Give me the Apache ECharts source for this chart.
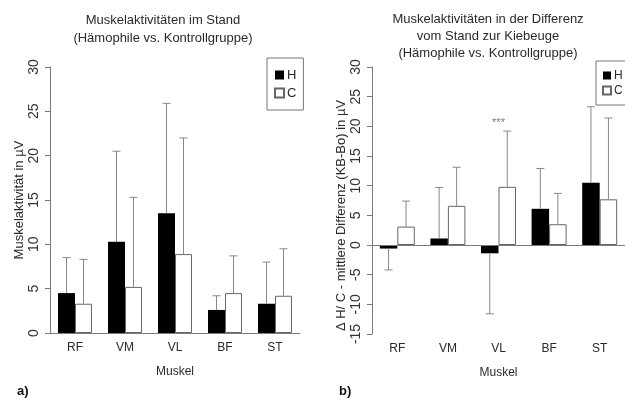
<!DOCTYPE html>
<html>
<head>
<meta charset="utf-8">
<title>Muskelaktivitäten</title>
<script src="https://cdn.jsdelivr.net/npm/echarts@6/dist/echarts.min.js"></script>
<style>
  html, body { margin: 0; padding: 0; background: #fff; }
  #main { width: 625px; height: 403px; }
</style>
</head>
<body>
<div id="main"></div>
<script>
// Daten
var categories = ['RF', 'VM', 'VL', 'BF', 'ST'];

// a) Stand
var standH = [4.5, 10.3, 13.5, 2.6, 3.3];
var standC = [3.3, 5.2, 8.9, 4.5, 4.2];
var standHEnd = [8.5, 20.5, 25.9, 4.2, 8.0];
var standCEnd = [8.3, 15.3, 22.0, 8.7, 9.5];

// b) Differenz Stand -> Kniebeuge
var diffH = [-0.6, 1.1, -1.4, 6.1, 10.5];
var diffC = [3.1, 6.6, 9.8, 3.5, 7.7];
var diffHEnd = [-4.2, 9.7, -11.6, 12.9, 23.3];
var diffCEnd = [7.4, 13.1, 19.2, 8.7, 21.4];

var sigCategory = ['VL'];
var sigValue = [20.5];
var sigText = ['***'];

var leftTicks = [0, 5, 10, 15, 20, 25, 30];
var rightTicks = [-15, -10, -5, 0, 5, 10, 15, 20, 25, 30];

var font = 'Liberation Sans, Arial, sans-serif';
var axisGray = '#7a7a7a';
var textCol = '#2a2a2a';

function errData(vals, ends) {
    return vals.map(function (v, i) { return [i, v, ends[i]]; });
}

// Fehlerbalken: Linie vom Balkenende bis zum Wert + SD, mit Querstrich
function errorBar(offset) {
    return function (params, api) {
        var i = api.value(0);
        var p1 = api.coord([i, api.value(1)]);
        var p2 = api.coord([i, api.value(2)]);
        var x = p1[0] + offset;
        var st = { stroke: '#888', lineWidth: 1 };
        return {
            type: 'group',
            children: [
                { type: 'line', shape: { x1: x, y1: p1[1], x2: x, y2: p2[1] }, style: st },
                { type: 'line', shape: { x1: x - 4, y1: p2[1], x2: x + 4, y2: p2[1] }, style: st }
            ]
        };
    };
}

function yAxis(idx, ticks, name, pad) {
    return {
        type: 'value',
        gridIndex: idx,
        min: ticks[0],
        max: ticks[ticks.length - 1],
        interval: 5,
        name: name,
        nameLocation: 'middle',
        nameGap: 24,
        nameTextStyle: { fontSize: 13, color: textCol, fontFamily: font, padding: pad },
        axisLine: { show: true, lineStyle: { color: axisGray } },
        axisTick: { show: true, length: 5, lineStyle: { color: axisGray } },
        axisLabel: { rotate: 90, margin: 9, fontSize: 14, color: '#333', fontFamily: font },
        splitLine: { show: false }
    };
}

function xAxis(idx, showLine) {
    return {
        type: 'category',
        gridIndex: idx,
        data: categories,
        name: 'Muskel',
        nameLocation: 'middle',
        nameGap: 33,
        nameTextStyle: { fontSize: 12, color: textCol, fontFamily: font },
        axisLine: { show: showLine, onZero: false, lineStyle: { color: axisGray } },
        axisTick: { show: false },
        axisLabel: { margin: 9, fontSize: 12, color: textCol, fontFamily: font }
    };
}

var myChart = echarts.init(document.getElementById('main'));

var option = {
    backgroundColor: '#fff',
    animation: false,
    title: [
        {
            text: 'Muskelaktivitäten im Stand\n(Hämophile vs. Kontrollgruppe)',
            left: 158, top: 6, textAlign: 'center',
            textStyle: { fontSize: 13, fontWeight: 'normal', color: textCol, fontFamily: font, lineHeight: 18 }
        },
        {
            text: 'Muskelaktivitäten in der Differenz\nvom Stand zur Kiebeuge\n(Hämophile vs. Kontrollgruppe)',
            left: 483, top: 6, textAlign: 'center',
            textStyle: { fontSize: 13, fontWeight: 'normal', color: textCol, fontFamily: font, lineHeight: 17 }
        }
    ],
    legend: [
        {
            data: ['H', 'C'], orient: 'vertical', left: 267, top: 58,
            padding: [10, 7], itemGap: 4, itemWidth: 9, itemHeight: 9,
            borderColor: '#777', borderWidth: 1, icon: 'rect',
            textStyle: { fontSize: 13, color: textCol, fontFamily: font, lineHeight: 14, padding: [0, 0, 0, -2] }
        },
        {
            data: ['H', 'C'], orient: 'vertical', left: 596, top: 61,
            padding: [8, 6], itemGap: 2, itemWidth: 8, itemHeight: 8,
            borderColor: '#777', borderWidth: 1, icon: 'rect',
            textStyle: { fontSize: 12, color: textCol, fontFamily: font, lineHeight: 13, padding: [0, 0, 0, -2] }
        }
    ],
    grid: [
        { left: 50, width: 250, top: 67, height: 266 },
        { left: 372, width: 255, top: 67, height: 267 }
    ],
    xAxis: [xAxis(0, true), xAxis(1, false)],
    yAxis: [
        yAxis(0, leftTicks, 'Muskelaktivität in µV', [0, 0, 0, 0]),
        yAxis(1, rightTicks, 'Δ H/ C - mittlere Differenz (KB-Bo) in µV', [0, 30, 0, 0])
    ],
    graphic: [
        { type: 'text', left: 17, top: 385, style: { text: 'a)', font: 'bold 13px ' + font, fill: '#111' } },
        { type: 'text', left: 339, top: 385, style: { text: 'b)', font: 'bold 13px ' + font, fill: '#111' } }
    ],
    series: [
        {
            name: 'H', type: 'bar', xAxisIndex: 0, yAxisIndex: 0,
            data: standH, barWidth: 17, barGap: '0%',
            itemStyle: { color: '#000', borderColor: '#000', borderWidth: 0 }
        },
        {
            name: 'C', type: 'bar', xAxisIndex: 0, yAxisIndex: 0,
            data: standC, barWidth: 17, barGap: '0%',
            itemStyle: { color: '#fff', borderColor: '#666', borderWidth: 1 }
        },
        {
            type: 'custom', xAxisIndex: 0, yAxisIndex: 0, z: 3,
            renderItem: errorBar(-8.5), data: errData(standH, standHEnd), encode: { x: 0, y: [1, 2] }
        },
        {
            type: 'custom', xAxisIndex: 0, yAxisIndex: 0, z: 3,
            renderItem: errorBar(8.5), data: errData(standC, standCEnd), encode: { x: 0, y: [1, 2] }
        },
        {
            name: 'H', type: 'bar', xAxisIndex: 1, yAxisIndex: 1,
            data: diffH, barWidth: 17.5, barGap: '0%',
            itemStyle: { color: '#000', borderColor: '#000', borderWidth: 0 },
            markLine: {
                silent: true, symbol: 'none', label: { show: false },
                lineStyle: { color: axisGray, type: 'solid', width: 1 },
                data: [{ yAxis: 0 }]
            }
        },
        {
            name: 'C', type: 'bar', xAxisIndex: 1, yAxisIndex: 1,
            data: diffC, barWidth: 17.5, barGap: '0%',
            itemStyle: { color: '#fff', borderColor: '#666', borderWidth: 1 }
        },
        {
            type: 'custom', xAxisIndex: 1, yAxisIndex: 1, z: 3,
            renderItem: errorBar(-8.75), data: errData(diffH, diffHEnd), encode: { x: 0, y: [1, 2] }
        },
        {
            type: 'custom', xAxisIndex: 1, yAxisIndex: 1, z: 3,
            renderItem: errorBar(8.75), data: errData(diffC, diffCEnd), encode: { x: 0, y: [1, 2] }
        },
        {
            // Signifikanz
            type: 'scatter', xAxisIndex: 1, yAxisIndex: 1, symbolSize: 0,
            data: sigCategory.map(function (c, i) { return [c, sigValue[i]]; }),
            label: {
                show: true, position: 'inside', fontSize: 11, color: '#555', fontFamily: font,
                formatter: function (p) { return sigText[p.dataIndex]; }
            }
        }
    ]
};

myChart.setOption(option);
</script>
</body>
</html>
